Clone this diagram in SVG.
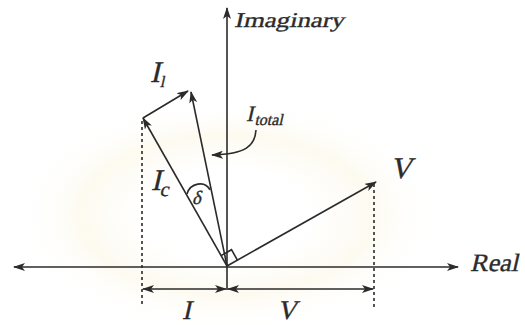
<svg xmlns="http://www.w3.org/2000/svg" width="525" height="325" viewBox="0 0 525 325">
<defs>
<marker id="ah" markerUnits="userSpaceOnUse" markerWidth="12" markerHeight="8" refX="11" refY="4" orient="auto-start-reverse">
<path d="M0,0 L12,4 L0,8 L3,4 z" fill="#2b2b2b"/>
</marker>
<radialGradient id="glow" cx="0.5" cy="0.5" r="0.5">
<stop offset="0" stop-color="#ffffff"/>
<stop offset="0.4" stop-color="#ffffff"/>
<stop offset="0.7" stop-color="#fdfaf0"/>
<stop offset="1" stop-color="#ffffff" stop-opacity="0"/>
</radialGradient>
<style>
.ln{stroke:#2b2b2b;stroke-width:1.6;fill:none}
.ar{marker-end:url(#ah)}
.dot{stroke:#2b2b2b;stroke-width:1.6;stroke-dasharray:3 3;fill:none}
text{fill:#2b2b2b;stroke:#2b2b2b;stroke-width:0.35;font-family:'Liberation Serif','DejaVu Serif',serif}
</style>
</defs>
<rect width="525" height="325" fill="#ffffff"/>
<ellipse cx="227" cy="215" rx="210" ry="115" fill="url(#glow)"/>

<g id="connectors">
<line id="real-axis" class="ln" x1="14" y1="267" x2="458" y2="267" marker-start="url(#ah)" marker-end="url(#ah)"/>
<line id="imag-axis" class="ln ar" x1="227" y1="290" x2="227" y2="8"/>
<line id="Ic-vec" class="ln ar" x1="227" y1="266" x2="143" y2="118"/>
<line id="Il-vec" class="ln ar" x1="143" y1="118" x2="188" y2="91"/>
<line id="Itotal-vec" class="ln ar" x1="227" y1="266" x2="191" y2="92"/>
<line id="V-vec" class="ln ar" x1="227" y1="266" x2="376" y2="182"/>
<line class="dot" x1="142" y1="121" x2="142" y2="306"/>
<line class="dot" x1="374" y1="184" x2="374" y2="308"/>
<line id="dim-I" class="ln" x1="143" y1="289" x2="226" y2="289" marker-start="url(#ah)" marker-end="url(#ah)"/>
<line id="dim-V" class="ln" x1="228" y1="289" x2="373" y2="289" marker-start="url(#ah)" marker-end="url(#ah)"/>
<path id="Itotal-pointer" class="ln ar" d="M256,130 C255,146 246,154 212,155"/>
<path id="delta-arc" class="ln" d="M187,194 C190,183 205,180 210,190"/>
<path id="right-angle" class="ln" d="M221.1,255.6 L231.5,249.7 L237.4,260.1"/>
</g>

<g id="label-imaginary" transform="translate(234,27) skewX(-13)"><text x="0" y="0" font-size="21" textLength="110" lengthAdjust="spacingAndGlyphs">Imaginary</text></g>
<g id="label-real" transform="translate(470,271) skewX(-13)"><text x="0" y="0" font-size="25" textLength="48" lengthAdjust="spacingAndGlyphs">Real</text></g>
<g id="label-Il" transform="translate(150,82) skewX(-13)"><text x="0" y="0" font-size="30">I<tspan font-size="16" dx="1" dy="5">l</tspan></text></g>
<g id="label-Ic" transform="translate(151,190) skewX(-13)"><text x="0" y="0" font-size="30">I<tspan font-size="20" dx="0" dy="6">c</tspan></text></g>
<g id="label-Itotal" transform="translate(246,121) skewX(-13)"><text x="0" y="0" font-size="22">I<tspan font-size="16" dx="2" dy="4">total</tspan></text></g>
<g id="label-delta" transform="translate(192,204) skewX(-13)"><text x="0" y="0" font-size="19">δ</text></g>
<g id="label-V" transform="translate(390,178) skewX(-13)"><text x="0" y="0" font-size="30">V</text></g>
<g id="label-I-dim" transform="translate(182,319) skewX(-13)"><text x="0" y="0" font-size="27">I</text></g>
<g id="label-V-dim" transform="translate(277,319) skewX(-13)"><text x="0" y="0" font-size="27">V</text></g>
</svg>
